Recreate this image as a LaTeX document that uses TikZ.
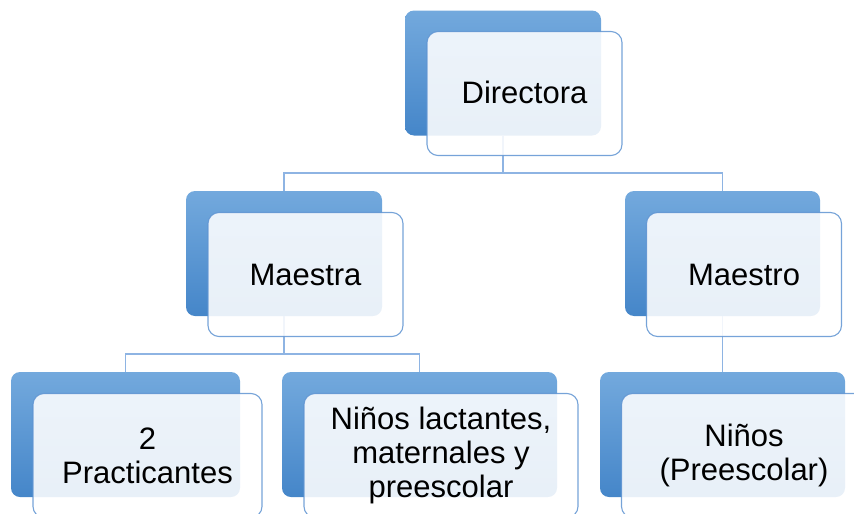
\documentclass[tikz,border=0pt]{standalone}
\usepackage{fontspec}
\setmainfont{Liberation Sans}
\pgfdeclarelayer{bg}
\pgfsetlayers{bg,main}
\definecolor{btop}{HTML}{73A9DD}
\definecolor{bbot}{HTML}{4586C9}
\definecolor{fborder}{HTML}{5F94D2}
\definecolor{conn}{HTML}{8EB4E3}
\begin{document}
\begin{tikzpicture}[x=1pt,y=-1pt,
  backbox/.style={rectangle, rounded corners=9pt, draw=none, top color=btop, bottom color=bbot, minimum height=125pt, inner sep=0pt},
  frontbox/.style={rectangle, rounded corners=11pt, draw=fborder, draw opacity=0.85, line width=1.1pt, fill=white, fill opacity=0.88, text opacity=1, minimum height=124pt, inner sep=0pt, align=center, font=\fontsize{31}{34}\selectfont},
  conline/.style={draw=conn, line width=1.3pt}]
\useasboundingbox (0,0) rectangle (854,514);
\clip (0,0) rectangle (854,514);
% back boxes
\node[backbox, minimum width=196pt] (bD) at (503,73) {};
\node[backbox, minimum width=196pt] (bA) at (284,253.5) {};
\node[backbox, minimum width=195pt] (bO) at (722.5,253.5) {};
\node[backbox, minimum width=229pt] (bP) at (125.5,434.5) {};
\node[backbox, minimum width=275pt] (bL) at (419.5,434.5) {};
\node[backbox, minimum width=245pt] (bN) at (722.5,434.5) {};
% front boxes
\node[frontbox, minimum width=195pt] (fD) at (524.5,93.5) {\raisebox{3pt}{Directora}};
\node[frontbox, minimum width=195pt] (fA) at (305.5,274.5) {Maestra};
\node[frontbox, minimum width=195pt] (fO) at (744,274.5) {Maestro};
\node[frontbox, minimum width=229pt] (fP) at (147.5,455.5) {2\\Practicantes};
\node[frontbox, minimum width=274pt] (fL) at (441,455.5) {Niños lactantes,\\maternales y\\preescolar};
\node[frontbox, minimum width=245pt] (fN) at (744,455.5) {Niños\\(Preescolar)};
% bus coordinates
\coordinate (busD) at (503,173);
\coordinate (busA) at (284,354);
\begin{pgfonlayer}{bg}
\draw[conline] (bD.south) -- (bD.south |- busD) -| (bA.north);
\draw[conline] (bD.south |- busD) -| (bO.north);
\draw[conline] (bA.south) -- (bA.south |- busA) -| (bP.north);
\draw[conline] (bA.south |- busA) -| (bL.north);
\draw[conline] (bO.south) -- (bN.north);
\end{pgfonlayer}
\end{tikzpicture}
\end{document}
